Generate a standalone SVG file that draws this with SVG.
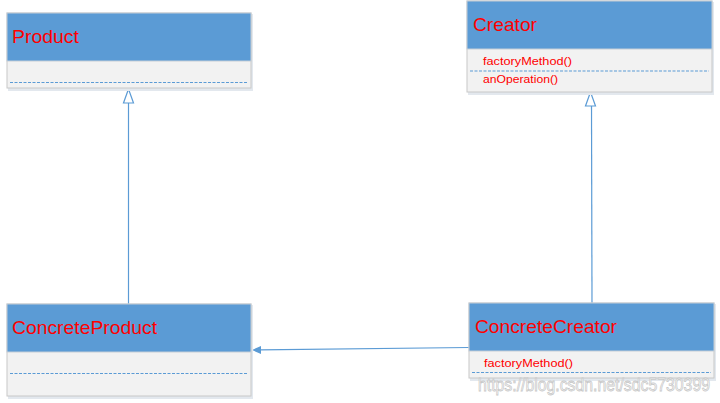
<svg xmlns="http://www.w3.org/2000/svg" width="720" height="403" viewBox="0 0 720 403">
<defs>
<style>
.hdr{fill:#5B9BD5;stroke:#C5CDD6;stroke-width:1}
.body{fill:#F2F2F2;stroke:#C8C8C8;stroke-width:1}
.shadow{fill:#E3E8EE}
.title{font-family:"Liberation Sans","DejaVu Sans",sans-serif;font-size:19px;fill:#FF0000}
.op{font-family:"Liberation Sans","DejaVu Sans",sans-serif;font-size:11px;fill:#FF0000}
.dash{stroke:#5B9BD5;stroke-width:1;stroke-dasharray:3 1.5;fill:none}
.sep{stroke:#C8C8C8;stroke-width:1}
.conn{stroke:#5B9BD5;stroke-width:1.2;fill:none}
.wm{font-family:"Liberation Sans","DejaVu Sans",sans-serif;font-size:18px;fill:#FFFFFF;stroke:#C8C8C8;stroke-width:0.8}
</style>
<marker id="inh" markerWidth="12" markerHeight="16" refX="5" refY="1" orient="auto-start-reverse" markerUnits="userSpaceOnUse" viewBox="0 0 12 16">
</marker>
</defs>
<rect width="720" height="403" fill="#FFFFFF"/>

<g id="connectors">
<line class="conn" x1="128.5" y1="103" x2="128.5" y2="304"/>
<polygon points="128.5,89 123.5,103 133.5,103" fill="#FFFFFF" stroke="#5B9BD5" stroke-width="1.2"/>
<line class="conn" x1="591.5" y1="106" x2="592" y2="303"/>
<polygon points="590.5,92 585.5,106 595.5,106" fill="#FFFFFF" stroke="#5B9BD5" stroke-width="1.2"/>
<line class="conn" x1="469" y1="347.5" x2="260" y2="349.8"/>
<polygon points="252,350 261,346 261,354" fill="#5B9BD5"/>
</g>

<g id="product">
<rect class="shadow" x="8" y="14" width="245" height="77"/>
<rect class="body" x="7" y="13" width="244" height="75"/>
<rect class="hdr" x="7" y="13" width="244" height="48"/>
<text class="title" x="12" y="43" textLength="67" lengthAdjust="spacingAndGlyphs">Product</text>
<line class="dash" x1="10" y1="82.5" x2="248" y2="82.5"/>
</g>

<g id="creator">
<rect class="shadow" x="468" y="2" width="246" height="93"/>
<rect class="body" x="467" y="1" width="245" height="91"/>
<rect class="hdr" x="467" y="1" width="245" height="48"/>
<text class="title" x="473" y="31" textLength="64" lengthAdjust="spacingAndGlyphs">Creator</text>
<text class="op" x="483" y="65" textLength="89" lengthAdjust="spacingAndGlyphs">factoryMethod()</text>
<line class="dash" x1="470" y1="71" x2="709" y2="71"/>
<text class="op" x="483" y="83" textLength="75" lengthAdjust="spacingAndGlyphs">anOperation()</text>
</g>

<g id="concreteProduct">
<rect class="shadow" x="8" y="305" width="245" height="94"/>
<rect class="body" x="7" y="304" width="244" height="92"/>
<rect class="hdr" x="7" y="304" width="244" height="48"/>
<text class="title" x="12" y="334" textLength="145" lengthAdjust="spacingAndGlyphs">ConcreteProduct</text>
<line class="dash" x1="10" y1="373.5" x2="248" y2="373.5"/>
</g>

<g id="concreteCreator">
<rect class="shadow" x="470" y="304" width="246" height="77"/>
<rect class="body" x="469" y="303" width="245" height="75"/>
<rect class="hdr" x="469" y="303" width="245" height="48"/>
<text class="title" x="475" y="333" textLength="142" lengthAdjust="spacingAndGlyphs">ConcreteCreator</text>
<text class="op" x="484" y="367" textLength="89" lengthAdjust="spacingAndGlyphs">factoryMethod()</text>
<line class="dash" x1="472" y1="372.5" x2="711" y2="372.5"/>
</g>

<text class="wm" x="478" y="391" textLength="232" lengthAdjust="spacingAndGlyphs">https://blog.csdn.net/sdc5730399</text>
</svg>
